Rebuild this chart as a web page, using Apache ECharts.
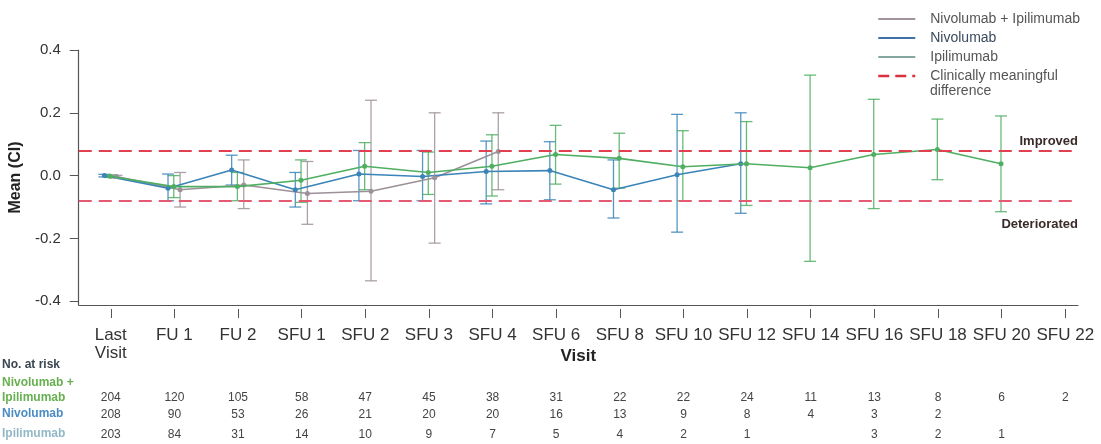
<!DOCTYPE html>
<html>
<head>
<meta charset="utf-8">
<script src="https://cdn.jsdelivr.net/npm/echarts@6/dist/echarts.min.js"></script>
<style>html,body{margin:0;background:#fff}#chart{width:1101px;height:444px}</style>
</head>
<body>
<div id="chart"></div>
<script>
var visits = ['Last\nVisit', 'FU 1', 'FU 2', 'SFU 1', 'SFU 2', 'SFU 3', 'SFU 4', 'SFU 6', 'SFU 8',
  'SFU 10', 'SFU 12', 'SFU 14', 'SFU 16', 'SFU 18', 'SFU 20', 'SFU 22'];

// Nivolumab + Ipilimumab
var comboMean = [-0.002, -0.035, -0.035, -0.015, 0.03, 0.01, 0.03, 0.067, 0.055, 0.028, 0.038, 0.025, 0.067, 0.083, 0.038, null];
var comboLow  = [-0.006, -0.07, -0.08, -0.085, -0.045, -0.06, -0.065, -0.027, -0.04, -0.08, -0.095, -0.273, -0.105, -0.013, -0.115, null];
var comboHigh = [0.002, 0.0, 0.01, 0.05, 0.105, 0.075, 0.13, 0.16, 0.135, 0.143, 0.172, 0.32, 0.243, 0.18, 0.19, null];
// Nivolumab
var nivoMean = [0.0, -0.04, 0.018, -0.045, 0.005, -0.003, 0.013, 0.016, -0.045, 0.003, 0.038];
var nivoLow  = [-0.004, -0.08, -0.03, -0.1, -0.08, -0.08, -0.09, -0.077, -0.135, -0.18, -0.12];
var nivoHigh = [0.004, 0.005, 0.065, 0.01, 0.08, 0.08, 0.11, 0.108, 0.05, 0.195, 0.2];
// Ipilimumab
var ipiMean = [-0.003, -0.045, -0.03, -0.057, -0.05, -0.007, 0.077];
var ipiLow  = [-0.007, -0.1, -0.105, -0.155, -0.335, -0.215, -0.045];
var ipiHigh = [0.001, 0.01, 0.05, 0.045, 0.24, 0.2, 0.2];

var mcid = 0.08;
var yTicks = [-0.4, -0.2, 0, 0.2, 0.4];

// No. at risk
var riskCombo = [204, 120, 105, 58, 47, 45, 38, 31, 22, 22, 24, 11, 13, 8, 6, 2];
var riskNivo  = [208, 90, 53, 26, 21, 20, 20, 16, 13, 9, 8, 4, 3, 2, null, null];
var riskIpi   = [203, 84, 31, 14, 10, 9, 7, 5, 4, 2, 1, null, 3, 2, 1, null];

var colCombo = '#4fae62', colNivo = '#3a84b8', colIpi = '#9c9099';
var font = '"Liberation Sans", Arial, sans-serif';
var idx = visits.map(function (v, i) { return i; });
var X_MIN = -0.503, X_MAX = 15.2;
var MCID_NAME = 'Clinically meaningful difference';

function pts(mean, off) {
  var d = [];
  mean.forEach(function (v, i) { if (v != null) d.push([i + off, v]); });
  return d;
}

function bars(name, low, high, off, color) {
  var d = [];
  low.forEach(function (v, i) { if (v != null) d.push([i + off, v, high[i]]); });
  return {
    type: 'custom', name: name, data: d, z: 2, silent: true,
    encode: { x: 0, y: [1, 2] },
    renderItem: function (params, api) {
      var x = api.value(0);
      var lo = api.coord([x, api.value(1)]);
      var hi = api.coord([x, api.value(2)]);
      var w = 6;
      var st = { stroke: color, lineWidth: 1.3, opacity: 0.85 };
      return { type: 'group', children: [
        { type: 'line', shape: { x1: lo[0], y1: lo[1], x2: hi[0], y2: hi[1] }, style: st },
        { type: 'line', shape: { x1: lo[0] - w, y1: lo[1], x2: lo[0] + w, y2: lo[1] }, style: st },
        { type: 'line', shape: { x1: hi[0] - w, y1: hi[1], x2: hi[0] + w, y2: hi[1] }, style: st }
      ] };
    }
  };
}

function riskAxis(vals, off) {
  return {
    type: 'value', min: X_MIN, max: X_MAX, position: 'bottom', offset: off,
    axisLine: { show: false }, axisTick: { show: false }, splitLine: { show: false },
    axisLabel: {
      customValues: idx, margin: 0, fontSize: 12, color: '#444', fontFamily: font,
      formatter: function (v) { var r = vals[Math.round(v)]; return r == null ? '' : String(r); }
    }
  };
}

var chart = echarts.init(document.getElementById('chart'));
var option = {
  animation: false,
  textStyle: { fontFamily: font },
  grid: { left: 78, right: 23, top: 50, bottom: 139 },
  legend: {
    orient: 'vertical', left: 872, top: 7,
    itemWidth: 37, itemHeight: 14, itemGap: 5,
    itemStyle: { opacity: 0 },
    textStyle: { fontSize: 14, color: '#555', padding: [0, 0, 0, 10] },
    formatter: function (name) { return name === MCID_NAME ? 'Clinically meaningful' : name; },
    data: [
      { name: 'Nivolumab + Ipilimumab', lineStyle: { color: '#a3939d', width: 2 } },
      { name: 'Nivolumab', lineStyle: { color: '#3e72a8', width: 2 }, textStyle: { color: '#3a4b5e' } },
      { name: 'Ipilimumab', lineStyle: { color: '#86a79f', width: 2 } },
      { name: MCID_NAME, lineStyle: { color: '#d9323c', width: 2.5, type: [11, 6] } }
    ]
  },
  xAxis: [
    {
      type: 'value', min: X_MIN, max: X_MAX,
      axisLine: { onZero: false, lineStyle: { color: '#555', width: 1.2 } },
      axisTick: { show: false }, axisLabel: { show: false }, splitLine: { show: false },
      name: 'Visit', nameLocation: 'middle', nameGap: 43,
      nameTextStyle: { fontSize: 17, fontWeight: 'bold', color: '#222' }
    },
    {
      type: 'value', min: X_MIN, max: X_MAX, position: 'bottom', offset: 4,
      axisLine: { show: false, onZero: false }, splitLine: { show: false },
      axisTick: { customValues: idx, length: 9, lineStyle: { color: '#555' } },
      axisLabel: {
        customValues: idx, margin: 17, fontSize: 17, lineHeight: 18, color: '#333',
        formatter: function (v) { return visits[Math.round(v)]; }
      }
    },
    riskAxis(riskCombo, 87),
    riskAxis(riskNivo, 104),
    riskAxis(riskIpi, 124)
  ],
  yAxis: {
    type: 'value', min: -0.412, max: 0.4,
    axisLine: { show: true, onZero: false, lineStyle: { color: '#555', width: 1.2 } },
    axisTick: { show: true, customValues: yTicks, length: 9, lineStyle: { color: '#555' } },
    axisLabel: {
      customValues: yTicks, margin: 18, fontSize: 15, color: '#333',
      formatter: function (v) { return v.toFixed(1); }
    },
    splitLine: { show: false },
    name: 'Mean (CI)', nameLocation: 'middle', nameGap: 49,
    nameTextStyle: { fontSize: 16, fontWeight: 'bold', color: '#222' }
  },
  graphic: [
    { type: 'text', left: 930, top: 84, style: { text: 'difference', fontSize: 14, fill: '#555', fontFamily: font } },
    { type: 'text', left: 2, top: 359, style: { text: 'No. at risk', fontSize: 12, fontWeight: 'bold', fill: '#3a4550', fontFamily: font } },
    { type: 'text', left: 2, top: 375, style: { text: 'Nivolumab +\nIpilimumab', fontSize: 12, lineHeight: 15, fontWeight: 'bold', fill: '#66b04f', fontFamily: font } },
    { type: 'text', left: 2, top: 408, style: { text: 'Nivolumab', fontSize: 12, fontWeight: 'bold', fill: '#4a8cc4', fontFamily: font } },
    { type: 'text', left: 2, top: 428, style: { text: 'Ipilimumab', fontSize: 12, fontWeight: 'bold', fill: '#92b8c8', fontFamily: font } }
  ],
  series: [
    {
      name: MCID_NAME, type: 'line', data: [], symbol: 'none',
      lineStyle: { color: '#d9323c', type: [11, 6], width: 2 },
      markLine: {
        silent: true, symbol: 'none',
        label: { fontSize: 13, fontWeight: 'bold', color: '#3a2a2a' },
        data: [
          { yAxis: mcid, lineStyle: { color: '#e0404f', type: [13, 7], width: 2 },
            label: { formatter: 'Improved', position: 'insideEndTop', distance: [0, 3] } },
          { yAxis: -mcid, lineStyle: { color: '#e45a72', type: [13, 7], width: 2 },
            label: { formatter: 'Deteriorated', position: 'insideEndBottom', distance: [0, 17] } }
        ]
      }
    },
    bars('ci-ipi', ipiLow, ipiHigh, 0.09, colIpi),
    bars('ci-nivo', nivoLow, nivoHigh, -0.1, colNivo),
    bars('ci-combo', comboLow, comboHigh, -0.01, colCombo),
    { name: 'Ipilimumab', type: 'line', data: pts(ipiMean, 0.09), color: colIpi,
      symbol: 'circle', symbolSize: 5, lineStyle: { width: 1.6 }, z: 3 },
    { name: 'Nivolumab', type: 'line', data: pts(nivoMean, -0.1), color: colNivo,
      symbol: 'circle', symbolSize: 5, lineStyle: { width: 1.6 }, z: 3 },
    { name: 'Nivolumab + Ipilimumab', type: 'line', data: pts(comboMean, -0.01), color: colCombo,
      symbol: 'circle', symbolSize: 5, lineStyle: { width: 1.6 }, z: 4 }
  ]
};
chart.setOption(option);
</script>
</body>
</html>
